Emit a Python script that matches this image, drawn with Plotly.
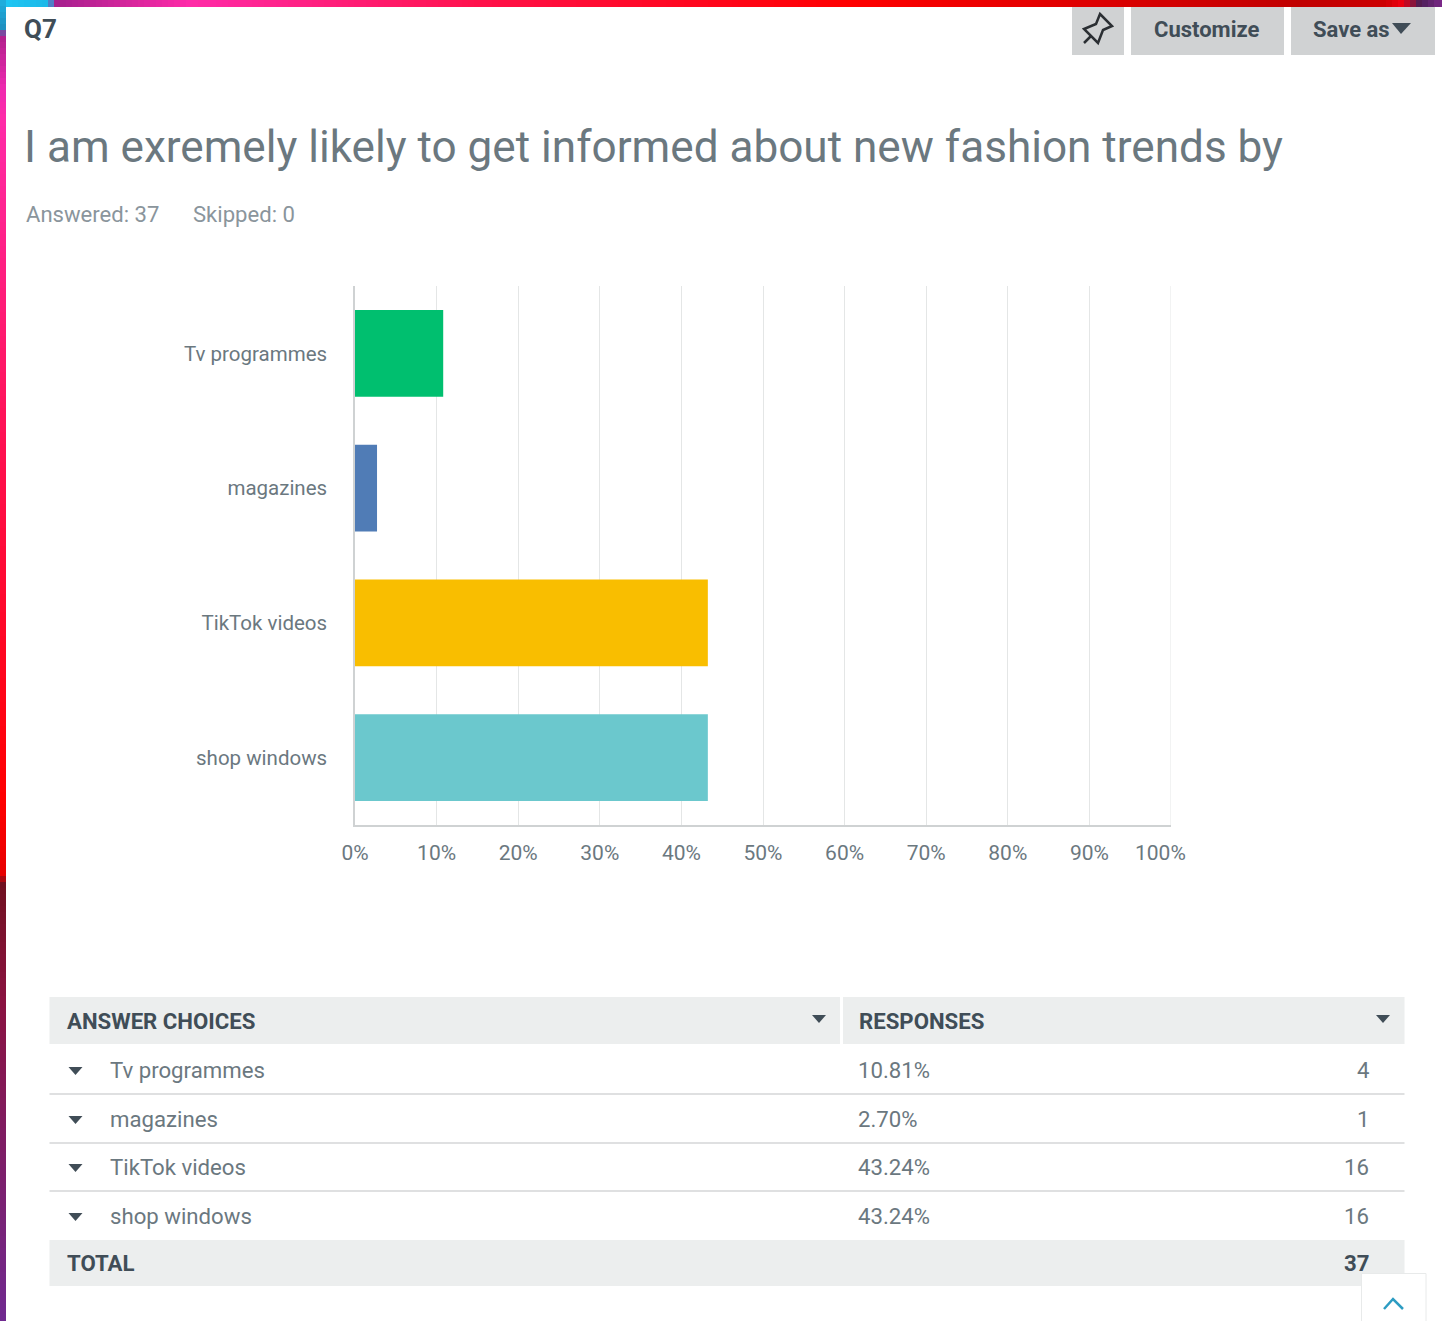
import plotly.graph_objects as go

categories = ["Tv programmes", "magazines", "TikTok videos", "shop windows"]
percent_values = [10.81, 2.70, 43.24, 43.24]
percent_labels = ["10.81%", "2.70%", "43.24%", "43.24%"]
counts = ["4", "1", "16", "16"]
total = "37"
bar_colors = ["#00BF6F", "#507CB6", "#F9BE00", "#6BC8CD"]
x_ticks = [0, 10, 20, 30, 40, 50, 60, 70, 80, 90, 100]
x_tick_labels = ["0%", "10%", "20%", "30%", "40%", "50%", "60%", "70%", "80%", "90%", ""]

W, H = 1442, 1321
L, R, T, B = 355, 1171, 285.5, 825.5
# The rendered plot area snaps to whole pixels; overlay coordinates use the snapped edges.
SNAP_T, SNAP_B = 286, 825
FONT = "Roboto"
GREY = "#6B787F"
DARK = "#404D57"


def px(x):
    return (x - L) / (R - L)


def py(y):
    return (SNAP_B - y) / (SNAP_B - SNAP_T)


shapes, annotations = [], []


def rect(x0, y0, x1, y1, fill, line=None, layer="above", lw=1):
    shapes.append(dict(type="rect", xref="paper", yref="paper", x0=px(x0), x1=px(x1),
                       y0=py(y0), y1=py(y1), fillcolor=fill, layer=layer,
                       line=dict(width=lw if line else 0, color=line or fill)))


def hline(x0, x1, y, color, w=1.5):
    shapes.append(dict(type="line", xref="paper", yref="paper", x0=px(x0), x1=px(x1),
                       y0=py(y), y1=py(y), line=dict(color=color, width=w)))


def poly(points, fill=None, line=None, w=1.5, closed=True):
    d = "M " + " L ".join(f"{px(a):.5f},{py(b):.5f}" for a, b in points) + (" Z" if closed else "")
    shapes.append(dict(type="path", xref="paper", yref="paper", path=d,
                       fillcolor=fill if fill else "rgba(0,0,0,0)",
                       line=dict(color=line or "rgba(0,0,0,0)", width=w if line else 0)))


def text(x, y, s, size, color, anchor="left", bold=False):
    annotations.append(dict(xref="paper", yref="paper", x=px(x), y=py(y), text=f"<b>{s}</b>" if bold else s,
                            showarrow=False, xanchor=anchor, yanchor="middle",
                            xshift={"left": -2, "right": 2, "center": 0}[anchor],
                            font=dict(family=FONT, size=size, color=color)))


def tri(cx, cy, w=14, h=8):
    poly([(cx - w / 2, cy - h / 2), (cx + w / 2, cy - h / 2), (cx, cy + h / 2)], fill=DARK)


def lerp(stops, v):
    for (a, ca), (b, cb) in zip(stops, stops[1:]):
        if a <= v <= b:
            t = (v - a) / (b - a) if b > a else 0
            c = [round(int(ca[i:i + 2], 16) * (1 - t) + int(cb[i:i + 2], 16) * t) for i in (1, 3, 5)]
            return "#%02x%02x%02x" % tuple(c)
    return stops[-1][1]


# Decorative gradient border (overlapping steps so no seams show)
top_stops = [(0, "#1FC8F5"), (48, "#1CB8E8"), (56, "#A5208E"), (190, "#FF2BA8"), (500, "#FF1045"),
             (850, "#FF0000"), (1300, "#C00000"), (1385, "#CC0000"), (1402, "#EE0010"), (1420, "#4A1F55"),
             (1442, "#7A2888")]
left_stops = [(0, "#1FB0E0"), (28, "#1F90C0"), (36, "#B0208C"), (90, "#F02AB0"), (120, "#FF2BA8"),
              (450, "#FF1050"), (800, "#FF0000"), (874, "#E80000"), (884, "#701020"), (1000, "#8A1240"),
              (1321, "#702A90")]
for x in range(0, W, 6):
    rect(x, -2, x + 9, 7, lerp(top_stops, x + 3))
for y in range(0, H, 6):
    rect(-2, y, 6, y + 9, lerp(left_stops, y + 3))

# Header texts
text(24, 29, "Q7", 26, DARK, bold=True)
text(24, 147, "I am exremely likely to get informed about new fashion trends by", 44.1, GREY)
text(26, 213.5, "Answered: 37", 22.1, "#8A959C")
text(193, 213.5, "Skipped: 0", 22.1, "#8A959C")

# Buttons
BTN = "#D0D2D3"
rect(1072, 7, 1124, 55, BTN)
rect(1131, 7, 1284, 55, BTN)
rect(1291, 7, 1435, 55, BTN)
text(1206, 29, "Customize", 22, DARK, "center", True)
text(1313, 29, "Save as", 22, DARK, "left", True)
poly([(1392, 23), (1411, 23), (1401, 34)], fill=DARK)
# Pin icon
poly([(1100, 14), (1112, 26), (1103, 30), (1098, 43), (1084, 29), (1096, 24)], line="#2B2F33", w=2.5)
poly([(1091, 36), (1084, 43)], line="#2B2F33", w=2.5, closed=False)

# Table
HEAD = "#ECEEEE"
rect(49.5, 997, 840, 1044, HEAD)
rect(843, 997, 1404.5, 1044, HEAD)
rect(49.5, 1240, 1404.5, 1286, HEAD)
text(67, 1021, "ANSWER CHOICES", 22.2, DARK, bold=True)
text(859, 1021, "RESPONSES", 22.2, DARK, bold=True)
tri(819, 1019)
tri(1383, 1019)
row_y = [1070, 1119, 1167, 1216]
for i, cy in enumerate(row_y):
    tri(75.5, cy + 1)
    text(110, cy, categories[i], 22.2, GREY)
    text(858, cy, percent_labels[i], 22.2, GREY)
    text(1369, cy, counts[i], 22.2, GREY, "right")
    if i < 3:
        hline(49.5, 1404.5, cy + 24, "#D4D6D7", 1.5)
text(67, 1263, "TOTAL", 22.2, DARK, bold=True)
text(1369, 1263, total, 22.2, DARK, "right", True)

# Back-to-top button
rect(1361.5, 1273.5, 1426, 1330, "#FFFFFF", "#E8EAEA", lw=1)
poly([(1384, 1309), (1393, 1299), (1403, 1309)], line="#2D9CC2", w=2.5, closed=False)

# Right-most gridline and its label, which sits left of the gridline in the original
shapes.append(dict(type="line", xref="x", yref="paper", x0=100, x1=100, y0=0, y1=1,
                   line=dict(color="#E4E6E6", width=1), layer="below"))
annotations.append(dict(xref="x", yref="paper", x=100, y=py(853), text="100%", showarrow=False,
                        xanchor="center", yanchor="middle", xshift=-11,
                        font=dict(family=FONT, size=21, color=GREY)))

fig = go.Figure(go.Bar(y=categories, x=percent_values, orientation="h",
                       marker=dict(color=bar_colors, line=dict(width=0)), width=0.643))
fig.update_layout(
    width=W, height=H, margin=dict(l=L, r=W - R, t=T, b=H - B, pad=0, autoexpand=False),
    paper_bgcolor="#FFFFFF", plot_bgcolor="#FFFFFF", showlegend=False,
    font=dict(family=FONT, color=GREY), shapes=shapes, annotations=annotations,
    xaxis=dict(range=[0, 100], tickmode="array", tickvals=x_ticks, ticktext=x_tick_labels,
               showgrid=True, gridcolor="#E4E6E6", gridwidth=1, zeroline=False,
               showline=True, linecolor="#CFD2D3", linewidth=1.5, ticks="", ticklabelstandoff=8,
               tickfont=dict(family=FONT, size=21, color=GREY), fixedrange=True),
    yaxis=dict(categoryorder="array", categoryarray=categories[::-1], showgrid=False, zeroline=False,
               showline=True, linecolor="#CFD2D3", linewidth=1.5, ticks="", ticklabelstandoff=22,
               tickfont=dict(family=FONT, size=20.5, color=GREY), fixedrange=True),
)
fig.write_html("out.html", config=dict(displayModeBar=False),
               post_script="document.body.style.margin='0';document.body.style.overflow='hidden';")
